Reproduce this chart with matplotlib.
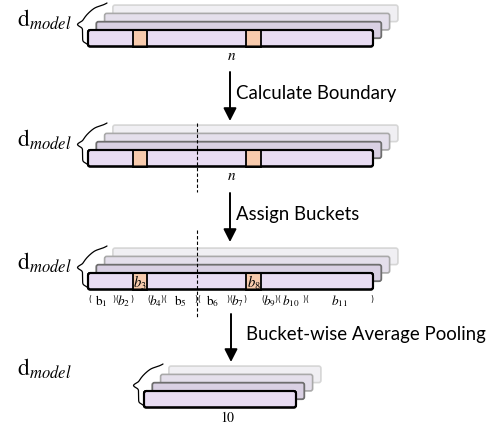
import numpy as np
import matplotlib
matplotlib.use("Agg")
import matplotlib.pyplot as plt
from matplotlib.patches import FancyBboxPatch, Rectangle, FancyArrowPatch

plt.rcParams['mathtext.fontset'] = 'stix'

# ---- content ----
step_labels = ["Calculate Boundary", "Assign Buckets", "Bucket-wise Average Pooling"]
length_labels = ["$n$", "$n$", None, "$10$"]
dim_label = r"$\mathrm{d}_{model}$"
# token positions (pixel columns) of the two highlighted boundary tokens
highlight_cells = [(133, 147), (246, 261)]
highlight_labels = [r"$b_3$", r"$b_8$"]
# bucket edges along the sequence and their labels
bucket_edges = [88, 115, 133, 147, 163, 197, 229, 246, 261, 277, 305, 373]
bucket_labels = [r"$\mathrm{b}_1$", r"$b_2$", None, r"$b_4$", r"$\mathrm{b}_5$",
                 r"$\mathrm{b}_6$", r"$b_7$", None, r"$b_9$", r"$b_{10}$", r"$b_{11}$"]
boundary_x = 197

W, H = 494, 427
fig = plt.figure(figsize=(W / 100, H / 100), dpi=100)
ax = fig.add_axes([0, 0, 1, 1])
ax.set_xlim(0, W)
ax.set_ylim(H, 0)
ax.axis('off')

layer_styles = [  # front -> back
    dict(fc="#E8DCF2", ec="#000000", lw=1.5),
    dict(fc="#D9D0E3", ec="#6E6E6E", lw=1.3),
    dict(fc="#E4DFEB", ec="#A9A9A9", lw=1.2),
    dict(fc="#F0EFF3", ec="#D6D6D6", lw=1.2),
]
STEP = 8.3
BAR_H = 16.5


def draw_stack(x0, y0, width, cells=None, cell_labels=None):
    for k in range(3, -1, -1):
        st = layer_styles[k]
        p = FancyBboxPatch((x0 + STEP * k, y0 - STEP * k), width, BAR_H,
                           boxstyle="round,pad=0,rounding_size=2.2",
                           fc=st['fc'], ec=st['ec'], lw=st['lw'], zorder=2 + (3 - k))
        ax.add_patch(p)
    if cells:
        for i, (a, b) in enumerate(cells):
            ax.add_patch(Rectangle((a, y0), b - a, BAR_H, fc="#F8CBAD",
                                   ec="black", lw=1.3, zorder=7))
            if cell_labels:
                ax.text((a + b) / 2, y0 + BAR_H / 2 + 0.5, cell_labels[i], ha='center',
                        va='center', fontsize=10.5, zorder=8)
    ax.add_patch(FancyBboxPatch((x0, y0), width, BAR_H,
                                boxstyle="round,pad=0,rounding_size=2.2",
                                fc='none', ec='black', lw=1.5, zorder=9))


def sig(z):
    return 1 / (1 + np.exp(-z))


def draw_brace(xb, yb, height, w=11, flick=19):
    t = np.linspace(0, 1, 300)
    tt = np.where(t <= 0.5, t, 1 - t)
    beta = 55
    off = w * (0.5 * sig(beta * (tt - 0.07)) + 0.5 * sig(beta * (tt - 0.45)))
    off = off - off[0]
    shear = flick * np.clip((t - 0.55) / 0.45, 0, 1) ** 1.6
    x = xb - off + shear
    y = yb - height * t
    ax.plot(x, y, color='black', lw=0.9, zorder=10, solid_capstyle='round')


def draw_arrow(x, y1, y2, label, tx):
    ax.add_patch(FancyArrowPatch((x, y1), (x, y2),
                                 arrowstyle='-|>,head_length=0.55,head_width=0.28',
                                 mutation_scale=14, color='black', lw=1.4,
                                 shrinkA=0, shrinkB=0, zorder=10))
    ax.text(tx, (y1 + y2) / 2 - 4, label, ha='left', va='center',
            fontsize=13.4, family='Lato')


x_start = 88
full_w = 285
short_w = 152

# panel 1
draw_stack(x_start, 31, full_w, highlight_cells)
draw_brace(88, 47, 43)
ax.text(72, 20, dim_label, ha='right', va='center', fontsize=17)
ax.text(232, 56, length_labels[0], ha='center', va='center', fontsize=11)

draw_arrow(230, 73, 122, step_labels[0], 236)

# panel 2
draw_stack(x_start, 151, full_w, highlight_cells)
draw_brace(88, 167, 43)
ax.text(72, 140, dim_label, ha='right', va='center', fontsize=17)
ax.text(232, 176, length_labels[1], ha='center', va='center', fontsize=11)
ax.plot([boundary_x, boundary_x], [124, 193], color='black', lw=0.8,
        dashes=(3, 2), zorder=11)

draw_arrow(230, 194, 243, step_labels[1], 236)

# panel 3
draw_stack(x_start, 274, full_w, highlight_cells, highlight_labels)
draw_brace(88, 290, 43)
ax.text(72, 263, dim_label, ha='right', va='center', fontsize=17)
ax.plot([boundary_x, boundary_x], [231, 318], color='black', lw=0.8,
        dashes=(3, 2), zorder=11)
for i, lab in enumerate(bucket_labels):
    if lab is None:
        continue
    a, b = bucket_edges[i], bucket_edges[i + 1]
    ax.text(a, 300, "(", ha='left', va='center', fontsize=5.5, family='DejaVu Sans')
    ax.text(b, 300, ")", ha='right', va='center', fontsize=5.5, family='DejaVu Sans')
    ax.text((a + b) / 2, 301, lab, ha='center', va='center', fontsize=9.5)

draw_arrow(231, 315, 363, step_labels[2], 246)

# panel 4
draw_stack(144, 392, short_w)
draw_brace(144, 408, 43)
ax.text(72, 369, dim_label, ha='right', va='center', fontsize=17)
ax.text(228, 418, length_labels[3], ha='center', va='center', fontsize=10)

fig.savefig("out.png", dpi=100)
